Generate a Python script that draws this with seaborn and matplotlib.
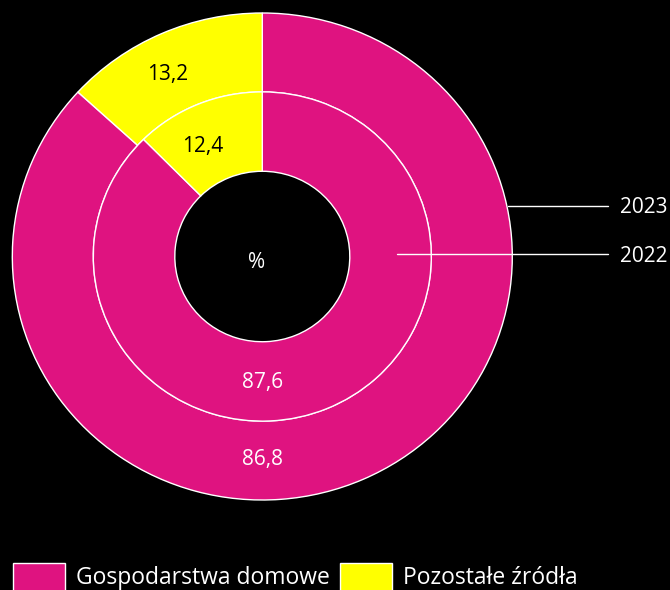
import numpy as np
import matplotlib
matplotlib.use('Agg')
import matplotlib.pyplot as plt
import seaborn as sns

# data
years = ['2023', '2022']
categories = ['Gospodarstwa domowe', 'Pozostałe źródła']
shares_2023 = [86.8, 13.2]
shares_2022 = [87.6, 12.4]

sns.set_theme(style='white')
plt.rcParams['font.family'] = ['Open Sans', 'DejaVu Sans']
colors = sns.color_palette(['#DF1380', '#FFFF00'])

fig = plt.figure(figsize=(6.7, 5.9), dpi=100, facecolor='black')
ax = fig.add_axes([0, 0, 1, 1])
ax.set_facecolor('black')

# the original is slightly stretched horizontally
k = 250.0 / 243.5
def Y(y_img):
    return (590 - y_img) * k

cx, cy = 262.3, Y(256.5)
r_out, r_mid, r_in = 250, 169, 87.5
edge = dict(edgecolor='white', linewidth=1)

ax.pie(shares_2023, colors=colors, startangle=90, counterclock=False,
       radius=r_out, center=(cx, cy), wedgeprops=dict(width=r_out - r_mid, **edge))
ax.pie(shares_2022, colors=colors, startangle=90, counterclock=False,
       radius=r_mid, center=(cx, cy), wedgeprops=dict(width=r_mid - r_in, **edge))

ax.set_aspect('auto')
ax.set_xlim(0, 670)
ax.set_ylim(0, Y(0))
ax.axis('off')

def fmt(v):
    return f'{v:.1f}'.replace('.', ',')

# value labels: yellow near wedge middle, pink at bottom
ring_mid = [(r_out + r_mid) / 2, (r_mid + r_in) / 2]
for vals, rm, dang, dr_pink in [(shares_2023, ring_mid[0], 3, -1), (shares_2022, ring_mid[1], 5.5, 1)]:
    ang = np.deg2rad(90 + vals[1] / 100 * 360 / 2 + dang)
    ax.text(cx + rm * np.cos(ang), cy + rm * np.sin(ang), fmt(vals[1]),
            ha='center', va='center', fontsize=15, color='black')
    ax.text(cx, cy - rm - dr_pink, fmt(vals[0]), ha='center', va='center', fontsize=15, color='white')

ax.text(cx - 6, Y(262), '%', ha='center', va='center', fontsize=15, color='white')

# year leader lines
ax.plot([508, 608], [Y(206), Y(206)], color='white', lw=1)
ax.text(620, Y(208), years[0], ha='left', va='center', fontsize=15, color='white')
ax.plot([397, 608], [Y(254), Y(254)], color='white', lw=1)
ax.text(620, Y(257), years[1], ha='left', va='center', fontsize=15, color='white')

handles = [plt.Rectangle((0, 0), 1, 1, facecolor=c) for c in colors]
leg = fig.legend(handles, categories, loc='upper left', bbox_to_anchor=(13 / 670, 27 / 590),
                 ncol=2, frameon=False, fontsize=16.5, labelcolor='white',
                 handlelength=2.27, handleheight=1.48, handletextpad=0.48,
                 columnspacing=0.44, borderaxespad=0, borderpad=0)

fig.savefig('out.png', dpi=100, facecolor='black')
